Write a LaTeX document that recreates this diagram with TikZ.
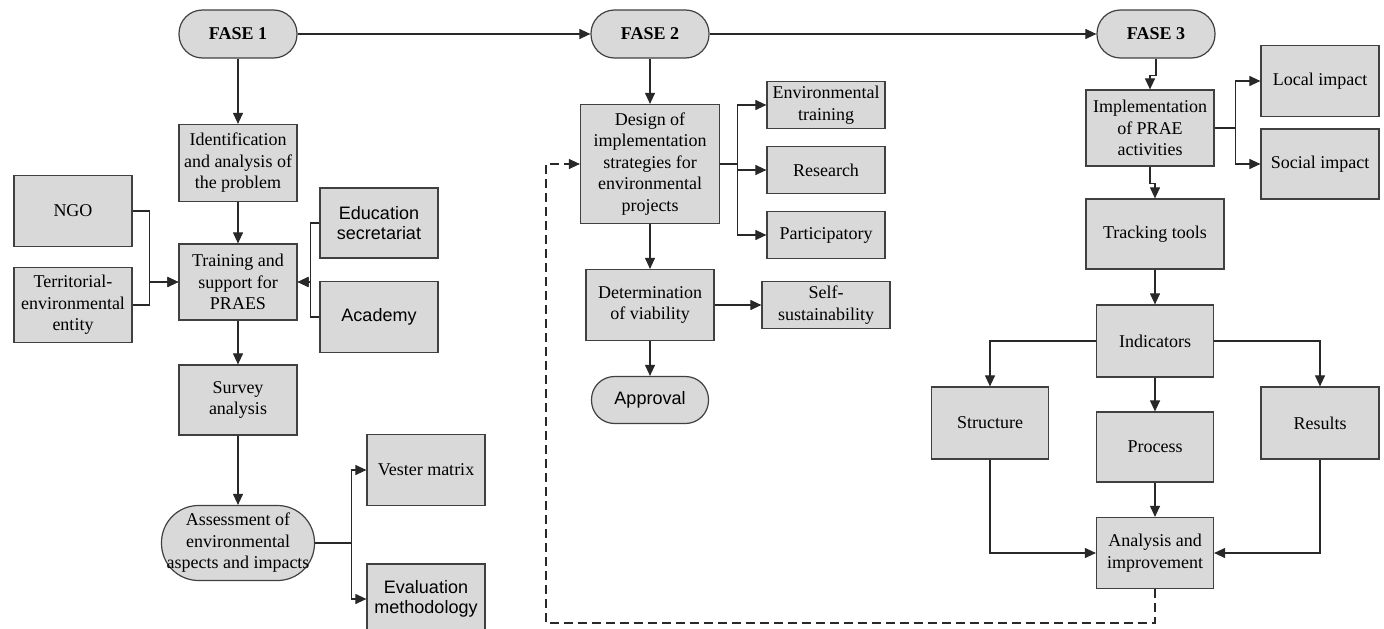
\documentclass[tikz,border=0pt]{standalone}
\usepackage{fontspec}
\setmainfont{Liberation Serif}
\newfontfamily\arialf{Liberation Sans}
\usetikzlibrary{arrows.meta,calc}
\definecolor{boxfill}{RGB}{217,217,217}
\definecolor{boxline}{RGB}{64,64,64}
\definecolor{edgecol}{RGB}{40,40,40}
\begin{document}
\begin{tikzpicture}[x=1pt,y=-1pt,
  box/.style={draw=boxline, line width=1.2pt, fill=boxfill, inner sep=0pt, align=center,
    font=\fontsize{18}{21.5}\selectfont},
  sbox/.style={box, font=\arialf\fontsize{18}{20.5}\selectfont},
  stadium/.style={box, rounded corners=#1},
  edge/.style={draw=edgecol, line width=1.1pt},
  arr/.style={edge, -{Triangle[length=11pt,width=10pt]}},
  fb/.style={arr, dash pattern=on 9pt off 5pt}]
\useasboundingbox (0,0) rectangle (1384,629);

% ---- Phase headers
\node[stadium=23.5pt, minimum width=118pt, minimum height=48pt, font=\bfseries\fontsize{18}{21.5}\selectfont] (f1) at (238,34) {FASE 1};
\node[stadium=23.5pt, minimum width=118pt, minimum height=48pt, font=\bfseries\fontsize{18}{21.5}\selectfont] (f2) at (650,34) {FASE 2};
\node[stadium=23.5pt, minimum width=118pt, minimum height=48pt, font=\bfseries\fontsize{18}{21.5}\selectfont] (f3) at (1156,34) {FASE 3};

% ---- Phase 1
\node[box, minimum width=118pt, minimum height=77pt] (ident) at (238,163) {Identification\\and analysis of\\the problem};
\node[box, minimum width=118pt, minimum height=76pt] (train) at (238,282) {Training and\\support for\\PRAES};
\node[box, minimum width=118pt, minimum height=71pt] (ngo) at (73,211) {NGO};
\node[box, minimum width=118pt, minimum height=75pt] (terr) at (73,305) {Territorial-\\environmental\\entity};
\node[sbox, minimum width=118pt, minimum height=70pt] (edu) at (379,223) {Education\\secretariat};
\node[sbox, minimum width=118pt, minimum height=71pt] (acad) at (379,317) {Academy};
\node[box, minimum width=118pt, minimum height=70pt] (survey) at (238,400) {Survey\\analysis};
\node[stadium=37pt, minimum width=153pt, minimum height=75pt] (assess) at (238,543) {Assessment of\\environmental\\aspects and impacts};
\node[box, minimum width=118pt, minimum height=71pt] (vester) at (426,470) {Vester matrix};
\node[sbox, minimum width=118pt, minimum height=70pt] (evalm) at (426,599) {Evaluation\\methodology};

% ---- Phase 2
\node[box, minimum width=139pt, minimum height=119pt] (design) at (650,164) {Design of\\implementation\\strategies for\\environmental\\projects};
\node[box, minimum width=118pt, minimum height=47pt] (envt) at (826,105) {Environmental\\training};
\node[box, minimum width=118pt, minimum height=47pt] (research) at (826,170) {Research};
\node[box, minimum width=118pt, minimum height=47pt] (partic) at (826,235) {Participatory};
\node[box, minimum width=128pt, minimum height=71pt] (determ) at (650,305) {Determination\\of viability};
\node[box, minimum width=128pt, minimum height=47pt] (selfs) at (826,305) {Self-\\sustainability};
\node[stadium=23pt, minimum width=117pt, minimum height=47pt, font=\arialf\fontsize{18}{20.5}\selectfont] (approval) at (650,400) {Approval};

% ---- Phase 3
\node[box, minimum width=128pt, minimum height=76pt] (impl) at (1150,128) {Implementation\\of PRAE\\activities};
\node[box, minimum width=118pt, minimum height=71pt] (local) at (1320,81) {Local impact};
\node[box, minimum width=118pt, minimum height=70pt] (social) at (1320,164) {Social impact};
\node[box, minimum width=138pt, minimum height=70pt] (track) at (1155,234) {Tracking tools};
\node[box, minimum width=117pt, minimum height=72pt] (indic) at (1155,341) {Indicators};
\node[box, minimum width=117pt, minimum height=72pt] (struct) at (990,423) {Structure};
\node[box, minimum width=117pt, minimum height=70pt] (process) at (1155,447) {Process};
\node[box, minimum width=118pt, minimum height=72pt] (results) at (1320,423) {Results};
\node[box, minimum width=117pt, minimum height=71pt] (analysis) at (1155,553) {Analysis and\\improvement};

\coordinate (fbL) at (546,623);

% ---- Connectors
\draw[arr] (f1.east) -- (f2.west);
\draw[arr] (f2.east) -- (f3.west);

\draw[arr] (f1.south) -- (ident.north);
\draw[arr] (ident.south) -- (train.north);
\draw[arr] (train.south) -- (survey.north);
\draw[arr] (survey.south) -- (assess.north);
\draw[arr] (ngo.east) -- ++(17,0) |- (train.west);
\draw[arr] (terr.east) -- ++(17,0) |- (train.west);
\draw[arr] (edu.west) -- ++(-9,0) |- (train.east);
\draw[arr] (acad.west) -- ++(-9,0) |- (train.east);
\draw[arr] (assess.east) -- ++(36,0) |- (vester.west);
\draw[arr] (assess.east) -- ++(36,0) |- (evalm.west);

\draw[arr] (f2.south) -- (design.north);
\draw[arr] (design.east) -- ++(17,0) |- (envt.west);
\draw[arr] (design.east) -- ++(17,0) |- (research.west);
\draw[arr] (design.east) -- ++(17,0) |- (partic.west);
\draw[arr] (design.south) -- (determ.north);
\draw[arr] (determ.south) -- (approval.north);
\draw[arr] (determ.east) -- (selfs.west);

\draw[arr] (f3.south) -- ++(0,17) -| (impl.north);
\draw[arr] (impl.east) -- ++(21,0) |- (local.west);
\draw[arr] (impl.east) -- ++(21,0) |- (social.west);
\draw[arr] (impl.south) -- ++(0,17) -| (track.north);
\draw[arr] (track.south) -- (indic.north);
\draw[arr] (indic.west) -| (struct.north);
\draw[arr] (indic.east) -| (results.north);
\draw[arr] (indic.south) -- (process.north);
\draw[arr] (process.south) -- (analysis.north);
\draw[arr] (struct.south) |- (analysis.west);
\draw[arr] (results.south) |- (analysis.east);

\draw[fb] (analysis.south) |- (fbL) |- (design.west);
\end{tikzpicture}
\end{document}
